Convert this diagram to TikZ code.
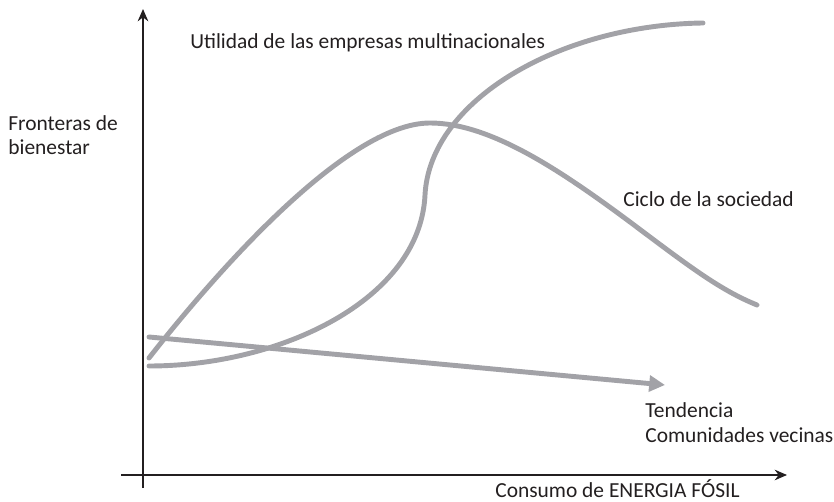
\documentclass[tikz,border=0pt]{standalone}
\usepackage{fontspec}
\setmainfont{Carlito}
\usepackage{tikz}
\usetikzlibrary{arrows.meta}

\definecolor{ink}{HTML}{231F20}
\definecolor{curva}{HTML}{A2A2A7}

\begin{document}
\begin{tikzpicture}[x=0.02cm, y=-0.02cm,
		eje/.style={draw=ink, line width=1.1pt, -{Stealth[length=7pt, width=6pt]}},
		linea/.style={draw=curva, line width=2.8pt, line cap=round, line join=round},
		rotulo/.style={anchor=base west, inner sep=0pt, text=ink, font=\fontsize{12.2pt}{14.2pt}\selectfont, align=left}]
		\useasboundingbox (0, 0) rectangle (834, 502);

		\coordinate (ybase) at (143, 488);
		\coordinate (ytop) at (143, 9);
		\coordinate (xbase) at (121, 475);
		\coordinate (xtop) at (787, 475);
		\coordinate (t0) at (149, 337);
		\coordinate (t1) at (665, 385);

		% base anchor sits on the last line
		\node[rotulo] (utilidad) at (190, 49) {Utilidad de las empresas multinacionales};
		\node[rotulo] (fronteras) at (8, 155) {Fronteras de\\bienestar};
		\node[rotulo] (ciclo) at (623, 207) {Ciclo de la sociedad};
		\node[rotulo] (tendencia) at (645, 442) {Tendencia\\Comunidades vecinas};
		\node[rotulo] (consumo) at (495, 498) {Consumo de ENERGIA FÓSIL};

		\draw[eje] (ybase) -- (ytop);
		\draw[eje] (xbase) -- (xtop);

		\draw[linea] (149, 358) .. controls (210, 280) and (345, 123) .. (430, 123)
				.. controls (490, 123) and (560, 170) .. (630, 222)
				.. controls (690, 267) and (720, 290) .. (757, 305);
		\draw[linea] (149, 366) .. controls (280, 366) and (420, 300) .. (425, 195)
				.. controls (430, 100) and (560, 25) .. (703, 23);
		\draw[linea, -{Triangle[length=9pt, width=9pt]}] (t0) -- (t1);
	\end{tikzpicture}
\end{document}
